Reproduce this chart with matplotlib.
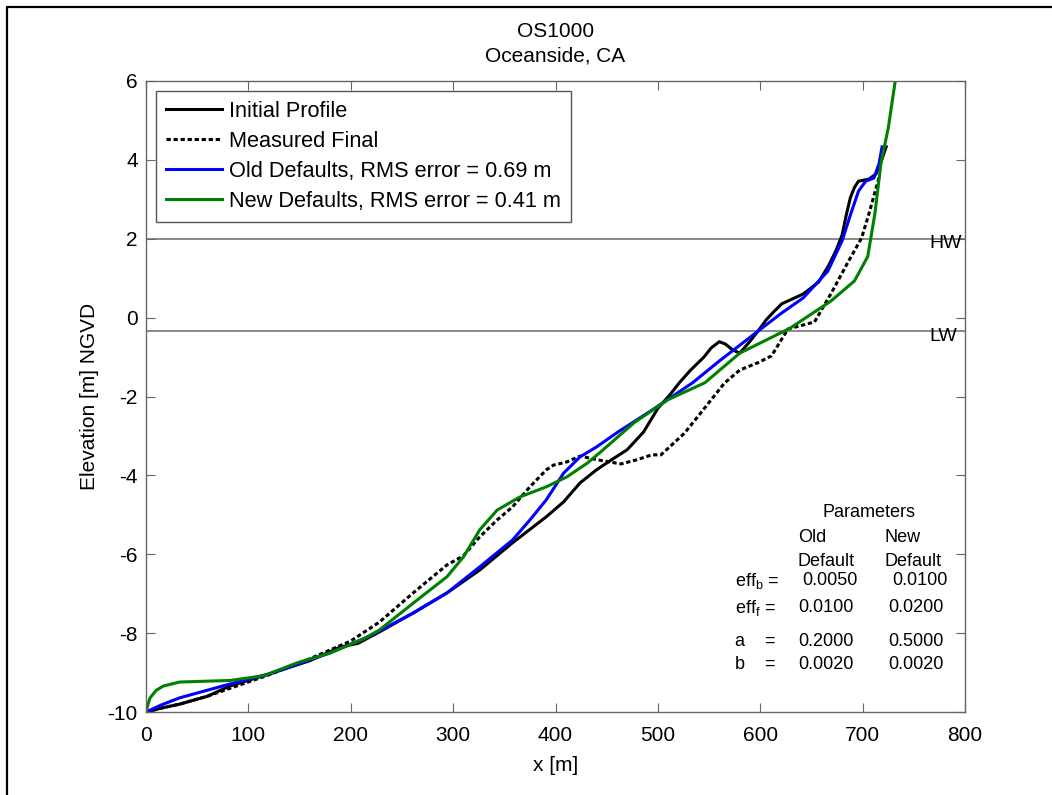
import matplotlib
matplotlib.use("Agg")
from matplotlib import pyplot as plt
from matplotlib.lines import Line2D

plt.rcParams['font.family'] = ['Liberation Sans', 'DejaVu Sans']
plt.rcParams['mathtext.fontset'] = 'custom'
plt.rcParams['mathtext.rm'] = 'Liberation Sans'
plt.rcParams['mathtext.it'] = 'Liberation Sans'
plt.rcParams['axes.unicode_minus'] = False

# profile data, x [m] and elevation [m]
initial_x = [0, 15, 33, 60, 82, 121, 160, 190, 207, 228, 261, 294, 326, 358, 391, 408, 424, 440,
             455, 470, 486, 500, 512, 521, 532, 545, 552, 560, 566, 573, 580, 590, 599, 606, 614,
             621, 642, 657, 667, 674, 680, 684, 688, 692, 696, 706, 713, 718, 723]
initial_y = [-10, -9.9, -9.8, -9.6, -9.34, -9.03, -8.7, -8.35, -8.26, -7.97, -7.49, -6.98, -6.4,
             -5.71, -5.05, -4.67, -4.19, -3.86, -3.6, -3.35, -2.9, -2.3, -1.95, -1.65, -1.33,
             -1.0, -0.77, -0.61, -0.67, -0.82, -0.9, -0.6, -0.3, -0.05, 0.17, 0.35, 0.6, 0.9,
             1.33, 1.7, 2.1, 2.6, 3.04, 3.3, 3.46, 3.51, 3.64, 3.95, 4.33]

measured_x = [0, 15, 33, 60, 82, 121, 160, 200, 228, 261, 294, 310, 326, 343, 358, 375, 391, 398,
              411, 424, 440, 464, 480, 494, 503, 526, 543, 565, 580, 598, 611, 627, 640, 653,
              670, 686, 699, 706, 716]
measured_y = [-10, -9.9, -9.8, -9.6, -9.4, -9.05, -8.65, -8.2, -7.72, -6.98, -6.27, -6.04, -5.56,
              -5.13, -4.8, -4.29, -3.86, -3.74, -3.66, -3.51, -3.6, -3.71, -3.6, -3.48, -3.48,
              -2.93, -2.38, -1.66, -1.33, -1.14, -0.97, -0.29, -0.2, -0.11, 0.65, 1.42, 2.02,
              2.62, 3.55]

old_x = [0, 15, 33, 82, 121, 180, 219, 261, 294, 326, 358, 375, 391, 408, 424, 440, 461, 494,
         534, 560, 580, 599, 620, 642, 666, 680, 688, 696, 703, 711, 716, 719]
old_y = [-10, -9.82, -9.64, -9.29, -9.03, -8.5, -8.07, -7.49, -6.98, -6.32, -5.64, -5.13, -4.62,
         -3.94, -3.53, -3.28, -2.9, -2.35, -1.65, -1.1, -0.7, -0.32, 0.1, 0.5, 1.18, 1.95, 2.6,
         3.21, 3.46, 3.54, 3.9, 4.33]

new_x = [0, 2, 4, 10, 17, 33, 82, 115, 148, 180, 213, 228, 261, 294, 310, 326, 343, 365, 391,
         411, 431, 443, 477, 510, 546, 580, 629, 669, 692, 705, 712, 718, 725, 733, 738]
new_y = [-10, -9.8, -9.64, -9.45, -9.34, -9.24, -9.2, -9.08, -8.75, -8.5, -8.14, -7.92, -7.24,
         -6.57, -6.07, -5.38, -4.88, -4.55, -4.29, -4.04, -3.69, -3.43, -2.66, -2.08, -1.65,
         -0.9, -0.27, 0.42, 0.93, 1.55, 2.64, 3.93, 4.8, 6.2, 7.0]

high_water = 2.0
low_water = -0.33

legend_labels = ["Initial Profile", "Measured Final",
                 "Old Defaults, RMS error = 0.69 m", "New Defaults, RMS error = 0.41 m"]

param_names = [r"eff$_{\mathrm{b}}$ =", r"eff$_{\mathrm{f}}$ =", "a    =", "b    ="]
param_old = ["0.0050", "0.0100", "0.2000", "0.0020"]
param_new = ["0.0100", "0.0200", "0.5000", "0.0020"]

fig = plt.figure(figsize=(10.52, 7.95), dpi=100)
ax = fig.add_axes([146 / 1052, 1 - 712 / 795, 819 / 1052, 631 / 795])

ax.axhline(high_water, color='#808080', linewidth=1.3, zorder=1)
ax.axhline(low_water, color='#808080', linewidth=1.3, zorder=1)

ax.plot(initial_x, initial_y, color='black', linewidth=2.2, label=legend_labels[0])
ax.plot(measured_x, measured_y, color='black', linewidth=2.2, linestyle=(0, (1.4, 0.9)),
        label=legend_labels[1])
ax.plot(old_x, old_y, color='#0000ff', linewidth=2.2, label=legend_labels[2])
ax.plot(new_x, new_y, color='#008000', linewidth=2.2, label=legend_labels[3])

ax.set_xlim(0, 800)
ax.set_ylim(-10, 6)
ax.set_xticks(range(0, 801, 100))
ax.set_yticks(range(-10, 7, 2))
ax.tick_params(direction='in', length=6.5, width=0.8, color='#666666', labelsize=15,
               top=True, right=True)
ax.tick_params(axis='x', pad=10)
ax.tick_params(axis='y', pad=6)
for s in ax.spines.values():
    s.set_color('#666666')
    s.set_linewidth(1.0)

ax.set_xlabel("x [m]", fontsize=15, labelpad=8)
ax.set_ylabel("Elevation [m] NGVD", fontsize=15, labelpad=6)
ax.set_title("OS1000\nOceanside, CA", fontsize=15, linespacing=1.4, pad=14)

ax.text(765, high_water - 0.12, "HW", fontsize=14, va='center', ha='left')
ax.text(765, low_water - 0.14, "LW", fontsize=14, va='center', ha='left')

leg = ax.legend(loc='upper left', fontsize=15.7, handlelength=2.6, handletextpad=0.3,
                labelspacing=0.42, borderpad=0.45, borderaxespad=0.45, fancybox=False,
                framealpha=1, edgecolor='#555555')
leg.get_frame().set_linewidth(1.0)

# parameter table
pfs = 13
ax.text(0.883, 0.316, "Parameters", transform=ax.transAxes, fontsize=pfs, ha='center', va='center')
ax.text(0.796, 0.276, "Old", transform=ax.transAxes, fontsize=pfs, va='center')
ax.text(0.902, 0.276, "New", transform=ax.transAxes, fontsize=pfs, va='center')
ax.text(0.796, 0.239, "Default", transform=ax.transAxes, fontsize=pfs, va='center')
ax.text(0.902, 0.239, "Default", transform=ax.transAxes, fontsize=pfs, va='center')
rows_y = [0.208, 0.165, 0.111, 0.076]
col1 = [0.801, 0.796, 0.797, 0.797]
col2 = [0.911, 0.906, 0.906, 0.906]
for i in range(len(param_names)):
    ax.text(0.719, rows_y[i], param_names[i], transform=ax.transAxes, fontsize=pfs, va='center')
    ax.text(col1[i], rows_y[i], param_old[i], transform=ax.transAxes, fontsize=pfs, va='center')
    ax.text(col2[i], rows_y[i], param_new[i], transform=ax.transAxes, fontsize=pfs, va='center')

# page frame from the source document
fx = 7 / 1052
fy = 1 - 7 / 795
fig.add_artist(Line2D([fx, fx, 1.0], [0.0, fy, fy], color='black', linewidth=1.6,
                      transform=fig.transFigure))

fig.savefig("out.png", dpi=100)
